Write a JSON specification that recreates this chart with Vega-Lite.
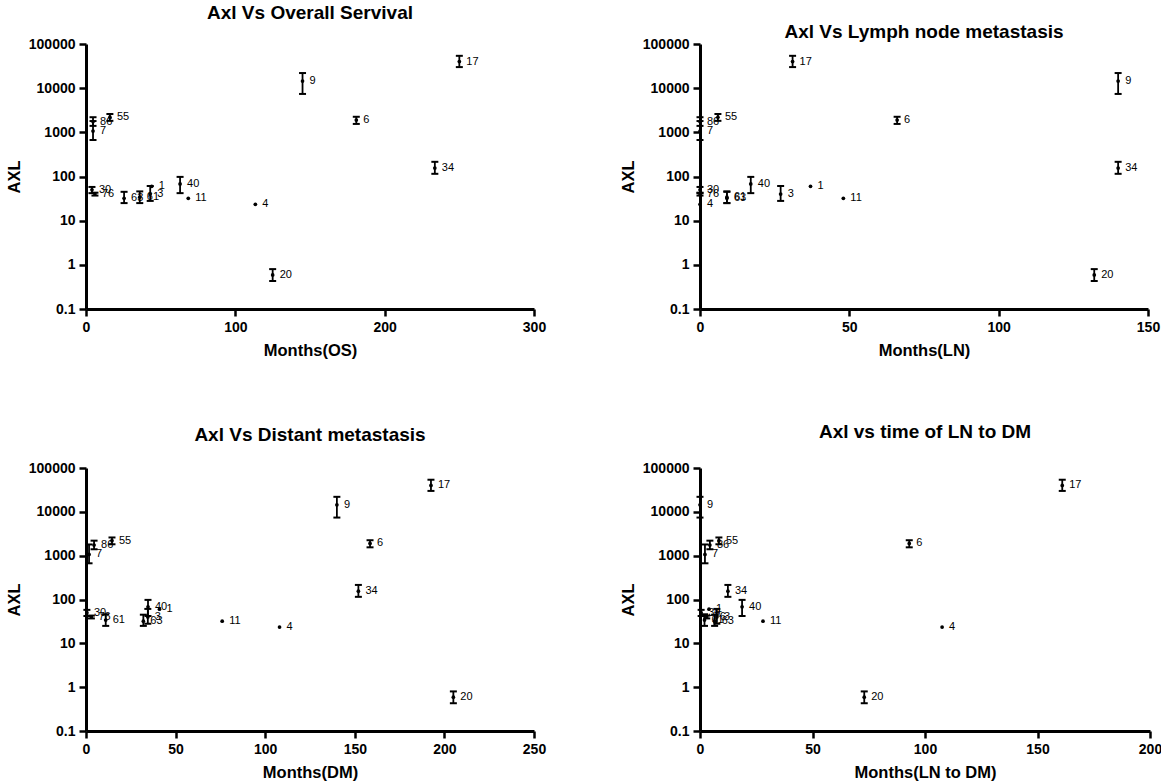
{
  "$schema": "https://vega.github.io/schema/vega-lite/v6.json",
  "background": "white",
  "padding": {"left": 6, "top": 4, "right": 5, "bottom": 2},
  "columns": 2,
  "spacing": {"row": 159, "column": 166},
  "bounds": "flush",
  "config": {
    "view": {"stroke": null},
    "font": "Liberation Sans",
    "axis": {"domainColor": "black", "domainWidth": 3, "tickColor": "black", "tickWidth": 2.5, "tickSize": 7,
      "labelFont": "Liberation Sans", "labelFontWeight": "bold", "labelFontSize": 14, "labelColor": "black", "labelPadding": 4,
      "titleFont": "Liberation Sans", "titleFontWeight": "bold", "titleFontSize": 16.5, "titleColor": "black",
      "grid": false, "labelFlush": false, "labelOverlap": false},
    "axisX": {"titlePadding": 8},
    "axisY": {"titlePadding": 6},
    "title": {"font": "Liberation Sans", "fontSize": 19, "fontWeight": "bold", "color": "black", "anchor": "middle", "frame": "group"}
  },
  "datasets": {
    "pts": [
      {"p": "OS", "id": "1", "m": 44, "axl": 60, "lo": null, "hi": null},
      {"p": "OS", "id": "3", "m": 43, "axl": 40, "lo": 28, "hi": 61},
      {"p": "OS", "id": "4", "m": 113.4, "axl": 23.5, "lo": null, "hi": null},
      {"p": "OS", "id": "6", "m": 181, "axl": 1900, "lo": 1550, "hi": 2250},
      {"p": "OS", "id": "7", "m": 4.7, "axl": 1070, "lo": 670, "hi": 1800},
      {"p": "OS", "id": "9", "m": 145, "axl": 14500, "lo": 7400, "hi": 22000},
      {"p": "OS", "id": "11", "m": 68.5, "axl": 32, "lo": null, "hi": null},
      {"p": "OS", "id": "17", "m": 250, "axl": 40000, "lo": 30000, "hi": 54000},
      {"p": "OS", "id": "20", "m": 125, "axl": 0.59, "lo": 0.43, "hi": 0.8},
      {"p": "OS", "id": "30", "m": 4, "axl": 50, "lo": 42, "hi": 58},
      {"p": "OS", "id": "34", "m": 233.6, "axl": 155, "lo": 115, "hi": 215},
      {"p": "OS", "id": "40", "m": 63, "axl": 68, "lo": 42, "hi": 98},
      {"p": "OS", "id": "55", "m": 16, "axl": 2200, "lo": 1820, "hi": 2600},
      {"p": "OS", "id": "61", "m": 36, "axl": 34, "lo": 25, "hi": 46},
      {"p": "OS", "id": "63", "m": 25.5, "axl": 32, "lo": 25, "hi": 45},
      {"p": "OS", "id": "76", "m": 6, "axl": 40, "lo": 37, "hi": 43},
      {"p": "OS", "id": "86", "m": 4.7, "axl": 1750, "lo": 1400, "hi": 2200},

      {"p": "LN", "id": "1", "m": 37, "axl": 60, "lo": null, "hi": null},
      {"p": "LN", "id": "3", "m": 27, "axl": 40, "lo": 28, "hi": 61},
      {"p": "LN", "id": "4", "m": 0, "axl": 23.5, "lo": null, "hi": null},
      {"p": "LN", "id": "6", "m": 66, "axl": 1900, "lo": 1550, "hi": 2250},
      {"p": "LN", "id": "7", "m": 0, "axl": 1070, "lo": 670, "hi": 1800},
      {"p": "LN", "id": "9", "m": 140, "axl": 14500, "lo": 7400, "hi": 22000},
      {"p": "LN", "id": "11", "m": 48, "axl": 32, "lo": null, "hi": null},
      {"p": "LN", "id": "17", "m": 31, "axl": 40000, "lo": 30000, "hi": 54000},
      {"p": "LN", "id": "20", "m": 132, "axl": 0.59, "lo": 0.43, "hi": 0.8},
      {"p": "LN", "id": "30", "m": 0, "axl": 50, "lo": 42, "hi": 58},
      {"p": "LN", "id": "34", "m": 140, "axl": 155, "lo": 115, "hi": 215},
      {"p": "LN", "id": "40", "m": 17, "axl": 68, "lo": 42, "hi": 98},
      {"p": "LN", "id": "55", "m": 6, "axl": 2200, "lo": 1820, "hi": 2600},
      {"p": "LN", "id": "61", "m": 9, "axl": 34, "lo": 25, "hi": 46},
      {"p": "LN", "id": "63", "m": 9, "axl": 32, "lo": 25, "hi": 45},
      {"p": "LN", "id": "76", "m": 0, "axl": 40, "lo": 37, "hi": 43},
      {"p": "LN", "id": "86", "m": 0, "axl": 1750, "lo": 1400, "hi": 2200},

      {"p": "DM", "id": "1", "m": 41, "axl": 60, "lo": null, "hi": null},
      {"p": "DM", "id": "3", "m": 34.5, "axl": 40, "lo": 28, "hi": 61},
      {"p": "DM", "id": "4", "m": 108, "axl": 23.5, "lo": null, "hi": null},
      {"p": "DM", "id": "6", "m": 158.5, "axl": 1900, "lo": 1550, "hi": 2250},
      {"p": "DM", "id": "7", "m": 1.7, "axl": 1070, "lo": 670, "hi": 1800},
      {"p": "DM", "id": "9", "m": 140, "axl": 14500, "lo": 7400, "hi": 22000},
      {"p": "DM", "id": "11", "m": 76, "axl": 32, "lo": null, "hi": null},
      {"p": "DM", "id": "17", "m": 192.5, "axl": 40000, "lo": 30000, "hi": 54000},
      {"p": "DM", "id": "20", "m": 205, "axl": 0.59, "lo": 0.43, "hi": 0.8},
      {"p": "DM", "id": "30", "m": 0.5, "axl": 50, "lo": 42, "hi": 58},
      {"p": "DM", "id": "34", "m": 152, "axl": 155, "lo": 115, "hi": 215},
      {"p": "DM", "id": "40", "m": 34.6, "axl": 68, "lo": 42, "hi": 98},
      {"p": "DM", "id": "55", "m": 14.5, "axl": 2200, "lo": 1820, "hi": 2600},
      {"p": "DM", "id": "61", "m": 11, "axl": 34, "lo": 25, "hi": 46},
      {"p": "DM", "id": "63", "m": 32, "axl": 32, "lo": 25, "hi": 45},
      {"p": "DM", "id": "76", "m": 3, "axl": 40, "lo": 37, "hi": 43},
      {"p": "DM", "id": "86", "m": 4.5, "axl": 1750, "lo": 1400, "hi": 2200},

      {"p": "LNDM", "id": "1", "m": 4, "axl": 60, "lo": null, "hi": null},
      {"p": "LNDM", "id": "3", "m": 7.5, "axl": 40, "lo": 28, "hi": 61},
      {"p": "LNDM", "id": "4", "m": 107.6, "axl": 23.5, "lo": null, "hi": null},
      {"p": "LNDM", "id": "6", "m": 93, "axl": 1900, "lo": 1550, "hi": 2250},
      {"p": "LNDM", "id": "7", "m": 2.2, "axl": 1070, "lo": 670, "hi": 1800},
      {"p": "LNDM", "id": "9", "m": 0, "axl": 14500, "lo": 7400, "hi": 22000},
      {"p": "LNDM", "id": "11", "m": 28, "axl": 32, "lo": null, "hi": null},
      {"p": "LNDM", "id": "17", "m": 161, "axl": 40000, "lo": 30000, "hi": 54000},
      {"p": "LNDM", "id": "20", "m": 73, "axl": 0.59, "lo": 0.43, "hi": 0.8},
      {"p": "LNDM", "id": "30", "m": 0.5, "axl": 50, "lo": 42, "hi": 58},
      {"p": "LNDM", "id": "34", "m": 12.4, "axl": 155, "lo": 115, "hi": 215},
      {"p": "LNDM", "id": "40", "m": 18.7, "axl": 68, "lo": 42, "hi": 98},
      {"p": "LNDM", "id": "55", "m": 8.4, "axl": 2200, "lo": 1820, "hi": 2600},
      {"p": "LNDM", "id": "61", "m": 2, "axl": 34, "lo": 25, "hi": 46},
      {"p": "LNDM", "id": "63", "m": 6.5, "axl": 32, "lo": 25, "hi": 45},
      {"p": "LNDM", "id": "76", "m": 3, "axl": 40, "lo": 37, "hi": 43},
      {"p": "LNDM", "id": "86", "m": 4.4, "axl": 1750, "lo": 1400, "hi": 2200}
    ]
  },
  "concat": [
    {
      "width": 448, "height": 265,
      "title": {"text": "Axl Vs Overall Servival", "offset": 14},
      "data": {"name": "pts"},
      "transform": [{"filter": "datum.p === 'OS'"}],
      "resolve": {"axis": {"y": "independent"}},
      "encoding": {
        "x": {"field": "m", "type": "quantitative", "scale": {"domain": [0, 300], "nice": false, "zero": false}, "axis": {"title": "Months(OS)", "values": [0, 100, 200, 300]}}
      },
      "layer": [
        {"mark": {"type": "circle", "color": "black", "size": 14, "opacity": 1},
         "encoding": {"y": {"field": "axl", "type": "quantitative", "scale": {"type": "log", "domain": [0.1, 100000], "nice": false},
           "axis": {"title": "AXL", "orient": "left", "tickCount": 20, "values": [0.1, 1, 10, 100, 1000, 10000, 100000], "labelExpr": "datum.value < 1 ? '0.1' : format(datum.value, 'd')", "tickSize": 7}}}},
        {"transform": [{"filter": "datum.lo != null"}], "mark": {"type": "rule", "color": "black", "strokeWidth": 1.8},
         "encoding": {"y": {"field": "lo", "type": "quantitative", "scale": {"type": "log", "domain": [0.1, 100000], "nice": false}, "axis": null}, "y2": {"field": "hi"}}},
        {"transform": [{"filter": "datum.lo != null"}], "mark": {"type": "tick", "orient": "horizontal", "color": "black", "size": 7, "thickness": 2, "opacity": 1},
         "encoding": {"y": {"field": "lo", "type": "quantitative", "scale": {"type": "log", "domain": [0.1, 100000], "nice": false}, "axis": null}}},
        {"transform": [{"filter": "datum.lo != null"}], "mark": {"type": "tick", "orient": "horizontal", "color": "black", "size": 7, "thickness": 2, "opacity": 1},
         "encoding": {"y": {"field": "hi", "type": "quantitative", "scale": {"type": "log", "domain": [0.1, 100000], "nice": false}, "axis": null}}},
        {"mark": {"type": "text", "align": "left", "baseline": "middle", "dx": 7, "fontSize": 11, "color": "black", "font": "Liberation Sans"},
         "encoding": {"y": {"field": "axl", "type": "quantitative", "scale": {"type": "log", "domain": [0.1, 100000], "nice": false}, "axis": null}, "text": {"field": "id"}}}
      ]
    },
    {
      "width": 448, "height": 265,
      "title": {"text": "Axl Vs Lymph node metastasis", "offset": -5},
      "data": {"name": "pts"},
      "transform": [{"filter": "datum.p === 'LN'"}],
      "resolve": {"axis": {"y": "independent"}},
      "encoding": {
        "x": {"field": "m", "type": "quantitative", "scale": {"domain": [0, 150], "nice": false, "zero": false}, "axis": {"title": "Months(LN)", "values": [0, 50, 100, 150]}}
      },
      "layer": [
        {"mark": {"type": "circle", "color": "black", "size": 14, "opacity": 1},
         "encoding": {"y": {"field": "axl", "type": "quantitative", "scale": {"type": "log", "domain": [0.1, 100000], "nice": false},
           "axis": {"title": "AXL", "orient": "left", "tickCount": 20, "values": [0.1, 1, 10, 100, 1000, 10000, 100000], "labelExpr": "datum.value < 1 ? '0.1' : format(datum.value, 'd')", "tickSize": 7}}}},
        {"transform": [{"filter": "datum.lo != null"}], "mark": {"type": "rule", "color": "black", "strokeWidth": 1.8},
         "encoding": {"y": {"field": "lo", "type": "quantitative", "scale": {"type": "log", "domain": [0.1, 100000], "nice": false}, "axis": null}, "y2": {"field": "hi"}}},
        {"transform": [{"filter": "datum.lo != null"}], "mark": {"type": "tick", "orient": "horizontal", "color": "black", "size": 7, "thickness": 2, "opacity": 1},
         "encoding": {"y": {"field": "lo", "type": "quantitative", "scale": {"type": "log", "domain": [0.1, 100000], "nice": false}, "axis": null}}},
        {"transform": [{"filter": "datum.lo != null"}], "mark": {"type": "tick", "orient": "horizontal", "color": "black", "size": 7, "thickness": 2, "opacity": 1},
         "encoding": {"y": {"field": "hi", "type": "quantitative", "scale": {"type": "log", "domain": [0.1, 100000], "nice": false}, "axis": null}}},
        {"mark": {"type": "text", "align": "left", "baseline": "middle", "dx": 7, "fontSize": 11, "color": "black", "font": "Liberation Sans"},
         "encoding": {"y": {"field": "axl", "type": "quantitative", "scale": {"type": "log", "domain": [0.1, 100000], "nice": false}, "axis": null}, "text": {"field": "id"}}}
      ]
    },
    {
      "width": 448, "height": 263,
      "title": {"text": "Axl Vs Distant metastasis", "offset": 16},
      "data": {"name": "pts"},
      "transform": [{"filter": "datum.p === 'DM'"}],
      "resolve": {"axis": {"y": "independent"}},
      "encoding": {
        "x": {"field": "m", "type": "quantitative", "scale": {"domain": [0, 250], "nice": false, "zero": false}, "axis": {"title": "Months(DM)", "values": [0, 50, 100, 150, 200, 250]}}
      },
      "layer": [
        {"mark": {"type": "circle", "color": "black", "size": 14, "opacity": 1},
         "encoding": {"y": {"field": "axl", "type": "quantitative", "scale": {"type": "log", "domain": [0.1, 100000], "nice": false},
           "axis": {"title": "AXL", "orient": "left", "tickCount": 20, "values": [0.1, 1, 10, 100, 1000, 10000, 100000], "labelExpr": "datum.value < 1 ? '0.1' : format(datum.value, 'd')", "tickSize": 7}}}},
        {"transform": [{"filter": "datum.lo != null"}], "mark": {"type": "rule", "color": "black", "strokeWidth": 1.8},
         "encoding": {"y": {"field": "lo", "type": "quantitative", "scale": {"type": "log", "domain": [0.1, 100000], "nice": false}, "axis": null}, "y2": {"field": "hi"}}},
        {"transform": [{"filter": "datum.lo != null"}], "mark": {"type": "tick", "orient": "horizontal", "color": "black", "size": 7, "thickness": 2, "opacity": 1},
         "encoding": {"y": {"field": "lo", "type": "quantitative", "scale": {"type": "log", "domain": [0.1, 100000], "nice": false}, "axis": null}}},
        {"transform": [{"filter": "datum.lo != null"}], "mark": {"type": "tick", "orient": "horizontal", "color": "black", "size": 7, "thickness": 2, "opacity": 1},
         "encoding": {"y": {"field": "hi", "type": "quantitative", "scale": {"type": "log", "domain": [0.1, 100000], "nice": false}, "axis": null}}},
        {"mark": {"type": "text", "align": "left", "baseline": "middle", "dx": 7, "fontSize": 11, "color": "black", "font": "Liberation Sans"},
         "encoding": {"y": {"field": "axl", "type": "quantitative", "scale": {"type": "log", "domain": [0.1, 100000], "nice": false}, "axis": null}, "text": {"field": "id"}}}
      ]
    },
    {
      "width": 450, "height": 263,
      "title": {"text": "Axl vs time of LN to DM", "offset": 19},
      "data": {"name": "pts"},
      "transform": [{"filter": "datum.p === 'LNDM'"}],
      "resolve": {"axis": {"y": "independent"}},
      "encoding": {
        "x": {"field": "m", "type": "quantitative", "scale": {"domain": [0, 200], "nice": false, "zero": false}, "axis": {"title": "Months(LN to DM)", "values": [0, 50, 100, 150, 200]}}
      },
      "layer": [
        {"mark": {"type": "circle", "color": "black", "size": 14, "opacity": 1},
         "encoding": {"y": {"field": "axl", "type": "quantitative", "scale": {"type": "log", "domain": [0.1, 100000], "nice": false},
           "axis": {"title": "AXL", "orient": "left", "tickCount": 20, "values": [0.1, 1, 10, 100, 1000, 10000, 100000], "labelExpr": "datum.value < 1 ? '0.1' : format(datum.value, 'd')", "tickSize": 7}}}},
        {"transform": [{"filter": "datum.lo != null"}], "mark": {"type": "rule", "color": "black", "strokeWidth": 1.8},
         "encoding": {"y": {"field": "lo", "type": "quantitative", "scale": {"type": "log", "domain": [0.1, 100000], "nice": false}, "axis": null}, "y2": {"field": "hi"}}},
        {"transform": [{"filter": "datum.lo != null"}], "mark": {"type": "tick", "orient": "horizontal", "color": "black", "size": 7, "thickness": 2, "opacity": 1},
         "encoding": {"y": {"field": "lo", "type": "quantitative", "scale": {"type": "log", "domain": [0.1, 100000], "nice": false}, "axis": null}}},
        {"transform": [{"filter": "datum.lo != null"}], "mark": {"type": "tick", "orient": "horizontal", "color": "black", "size": 7, "thickness": 2, "opacity": 1},
         "encoding": {"y": {"field": "hi", "type": "quantitative", "scale": {"type": "log", "domain": [0.1, 100000], "nice": false}, "axis": null}}},
        {"mark": {"type": "text", "align": "left", "baseline": "middle", "dx": 7, "fontSize": 11, "color": "black", "font": "Liberation Sans"},
         "encoding": {"y": {"field": "axl", "type": "quantitative", "scale": {"type": "log", "domain": [0.1, 100000], "nice": false}, "axis": null}, "text": {"field": "id"}}}
      ]
    }
  ]
}
